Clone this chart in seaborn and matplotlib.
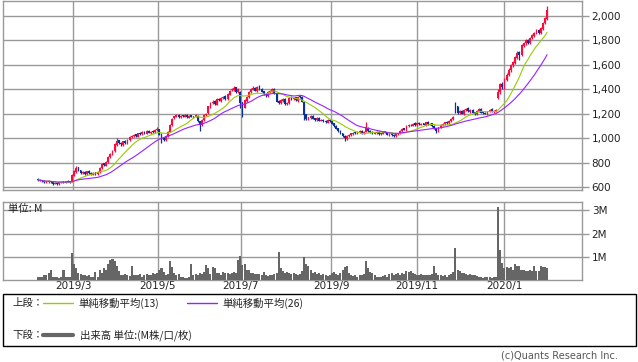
import numpy as np
import pandas as pd
import matplotlib
matplotlib.use("Agg")
import matplotlib.pyplot as plt
from matplotlib.patches import Rectangle
from matplotlib.lines import Line2D
import seaborn as sns

# ---------------- data (daily, trading-day index) ----------------
open_ = [
    670, 662, 658, 652, 638, 642, 652, 642, 628, 636,
    628, 640, 648, 638, 652, 648, 650, 695, 728, 762,
    738, 715, 728, 708, 732, 718, 702, 722, 708, 722,
    758, 795, 775, 805, 848, 868, 898, 945, 985, 962,
    948, 978, 958, 988, 1008, 1018, 1032, 1012, 1042, 1032,
    1055, 1038, 1062, 1042, 1058, 1048, 1068, 1075, 1035, 1005,
    988, 1018, 1052, 1108, 1162, 1178, 1192, 1172, 1188, 1178,
    1192, 1168, 1188, 1172, 1178, 1185, 1138, 1108, 1148, 1188,
    1205, 1255, 1285, 1305, 1275, 1325, 1305, 1328, 1345, 1318,
    1355, 1392, 1395, 1415, 1378, 1380, 1295, 1250, 1305, 1338,
    1375, 1398, 1412, 1385, 1425, 1402, 1385, 1365, 1345, 1378,
    1388, 1405, 1365, 1305, 1285, 1305, 1325, 1278, 1285, 1335,
    1318, 1335, 1305, 1345, 1338, 1295, 1195, 1155, 1165, 1185,
    1162, 1148, 1168, 1142, 1152, 1142, 1128, 1152, 1138, 1122,
    1102, 1082, 1062, 1042, 1022, 998, 1018, 1028, 1035, 1048,
    1038, 1048, 1062, 1038, 1052, 1088, 1062, 1052, 1038, 1042,
    1052, 1033, 1038, 1058, 1048, 1028, 1038, 1028, 1018, 1032,
    1038, 1058, 1082, 1068, 1098, 1112, 1102, 1122, 1108, 1128,
    1112, 1122, 1108, 1132, 1112, 1122, 1102, 1082, 1058, 1088,
    1108, 1118, 1132, 1122, 1138, 1158, 1290, 1260, 1205, 1222,
    1198, 1228, 1245, 1215, 1232, 1212, 1198, 1222, 1242, 1212,
    1208, 1198, 1218, 1238, 1215, 1222, 1330, 1375, 1445, 1415,
    1475, 1515, 1555, 1598, 1615, 1655, 1705, 1678, 1755, 1775,
    1805, 1778, 1815, 1835, 1855, 1885, 1858, 1895, 1945, 1975,
]
close = [
    660, 655, 650, 640, 645, 650, 640, 630, 635, 625,
    640, 645, 640, 650, 645, 640, 700, 730, 760, 740,
    720, 725, 710, 730, 715, 705, 720, 710, 725, 760,
    790, 780, 810, 850, 870, 900, 950, 980, 960, 950,
    975, 960, 990, 1010, 1020, 1030, 1015, 1040, 1035, 1050,
    1040, 1060, 1045, 1055, 1050, 1070, 1080, 1030, 1000, 990,
    1020, 1050, 1110, 1160, 1180, 1190, 1175, 1185, 1180, 1190,
    1170, 1185, 1175, 1180, 1190, 1140, 1110, 1150, 1190, 1200,
    1260, 1290, 1300, 1280, 1320, 1310, 1330, 1340, 1320, 1360,
    1390, 1400, 1410, 1380, 1400, 1290, 1250, 1310, 1340, 1380,
    1400, 1410, 1390, 1420, 1400, 1380, 1360, 1350, 1380, 1390,
    1400, 1370, 1300, 1290, 1310, 1320, 1280, 1290, 1330, 1320,
    1330, 1310, 1340, 1335, 1300, 1190, 1160, 1170, 1180, 1160,
    1150, 1165, 1145, 1150, 1140, 1130, 1150, 1140, 1120, 1100,
    1080, 1060, 1040, 1020, 1000, 1020, 1030, 1040, 1045, 1040,
    1050, 1060, 1040, 1050, 1090, 1060, 1050, 1040, 1045, 1050,
    1035, 1040, 1055, 1045, 1030, 1035, 1025, 1020, 1035, 1040,
    1060, 1080, 1070, 1100, 1110, 1105, 1120, 1110, 1125, 1115,
    1120, 1110, 1130, 1115, 1120, 1100, 1080, 1060, 1090, 1110,
    1120, 1130, 1125, 1140, 1160, 1170, 1230, 1210, 1220, 1200,
    1230, 1240, 1220, 1230, 1210, 1200, 1225, 1240, 1210, 1205,
    1200, 1220, 1235, 1220, 1225, 1230, 1380, 1440, 1420, 1480,
    1520, 1560, 1600, 1620, 1660, 1700, 1680, 1760, 1780, 1800,
    1780, 1820, 1840, 1860, 1880, 1860, 1900, 1940, 1980, 2050,
]
high = [
    678, 668, 662, 656, 650, 656, 655, 646, 640, 640,
    645, 652, 652, 655, 656, 652, 705, 740, 770, 768,
    742, 732, 734, 736, 738, 722, 726, 728, 730, 766,
    798, 802, 815, 858, 878, 908, 958, 1000, 990, 968,
    982, 985, 995, 1015, 1028, 1036, 1038, 1046, 1048, 1058,
    1062, 1066, 1068, 1060, 1064, 1076, 1092, 1080, 1040, 1010,
    1025, 1056, 1115, 1168, 1186, 1198, 1198, 1190, 1194, 1196,
    1198, 1190, 1194, 1186, 1196, 1190, 1142, 1155, 1195, 1208,
    1266, 1298, 1310, 1312, 1326, 1332, 1338, 1348, 1352, 1368,
    1398, 1410, 1425, 1420, 1408, 1385, 1300, 1318, 1346, 1388,
    1408, 1425, 1418, 1428, 1432, 1408, 1390, 1370, 1388, 1398,
    1410, 1410, 1372, 1310, 1318, 1328, 1330, 1298, 1338, 1342,
    1338, 1340, 1346, 1352, 1345, 1300, 1200, 1178, 1188, 1190,
    1168, 1170, 1172, 1155, 1158, 1148, 1155, 1158, 1142, 1126,
    1106, 1086, 1066, 1046, 1026, 1026, 1036, 1046, 1052, 1054,
    1056, 1066, 1068, 1056, 1130, 1094, 1066, 1058, 1050, 1056,
    1058, 1046, 1060, 1062, 1052, 1040, 1042, 1032, 1040, 1046,
    1066, 1086, 1088, 1106, 1116, 1120, 1126, 1130, 1132, 1134,
    1126, 1128, 1136, 1138, 1126, 1126, 1106, 1086, 1095, 1116,
    1126, 1136, 1138, 1146, 1166, 1180, 1300, 1265, 1228, 1228,
    1236, 1248, 1252, 1236, 1238, 1218, 1230, 1246, 1248, 1218,
    1214, 1226, 1242, 1244, 1232, 1238, 1400, 1450, 1460, 1490,
    1530, 1570, 1610, 1632, 1668, 1710, 1712, 1770, 1790, 1810,
    1812, 1828, 1850, 1868, 1890, 1892, 1908, 1950, 1990, 2080,
]
low = [
    655, 648, 645, 632, 634, 638, 636, 622, 624, 618,
    622, 636, 634, 632, 640, 634, 645, 690, 720, 732,
    712, 710, 704, 702, 710, 698, 698, 704, 702, 718,
    752, 772, 770, 800, 840, 860, 890, 938, 952, 935,
    940, 955, 952, 982, 1002, 1012, 1008, 1008, 1030, 1028,
    1035, 1032, 1040, 1038, 1044, 1044, 1062, 1025, 965, 975,
    982, 1012, 1048, 1100, 1155, 1172, 1168, 1165, 1174, 1172,
    1165, 1162, 1170, 1166, 1174, 1135, 1060, 1100, 1142, 1182,
    1200, 1248, 1278, 1272, 1270, 1302, 1300, 1322, 1315, 1312,
    1350, 1385, 1390, 1372, 1372, 1250, 1170, 1245, 1300, 1332,
    1370, 1392, 1385, 1380, 1395, 1375, 1355, 1340, 1340, 1372,
    1382, 1365, 1295, 1278, 1280, 1300, 1270, 1270, 1280, 1315,
    1312, 1305, 1300, 1328, 1295, 1150, 1150, 1148, 1160, 1155,
    1145, 1142, 1140, 1138, 1135, 1125, 1122, 1135, 1115, 1095,
    1075, 1055, 1035, 1012, 980, 990, 1012, 1022, 1030, 1035,
    1032, 1044, 1035, 1032, 1048, 1055, 1045, 1035, 1032, 1038,
    1030, 1028, 1034, 1040, 1024, 1022, 1020, 1012, 1014, 1028,
    1032, 1052, 1064, 1062, 1092, 1098, 1098, 1104, 1102, 1110,
    1106, 1105, 1102, 1110, 1108, 1095, 1075, 1040, 1052, 1082,
    1102, 1112, 1118, 1118, 1132, 1152, 1210, 1200, 1195, 1195,
    1192, 1222, 1215, 1210, 1205, 1192, 1192, 1218, 1205, 1198,
    1195, 1192, 1212, 1214, 1210, 1215, 1320, 1360, 1400, 1405,
    1465, 1505, 1545, 1585, 1605, 1645, 1640, 1670, 1745, 1765,
    1770, 1770, 1808, 1828, 1848, 1850, 1850, 1888, 1935, 1965,
]
volume_m = [
    0.12, 0.15, 0.14, 0.2, 0.22, 0.3, 0.42, 0.15, 0.12, 0.12,
    0.1, 0.13, 0.42, 0.15, 0.12, 0.13, 1.15, 0.7, 0.5, 0.3,
    0.25, 0.2, 0.2, 0.18, 0.22, 0.12, 0.15, 0.35, 0.15, 0.45,
    0.3, 0.5, 0.45, 0.7, 0.85, 0.9, 0.8, 0.6, 0.4, 0.22,
    0.2, 0.25, 0.2, 0.18, 0.6, 0.22, 0.2, 0.2, 0.25, 0.15,
    0.22, 0.25, 0.2, 0.22, 0.3, 0.28, 0.32, 0.45, 0.5, 0.35,
    0.2, 0.25, 0.8, 0.55, 0.3, 0.2, 0.25, 0.15, 0.12, 0.1,
    0.1, 0.12, 0.7, 0.2, 0.25, 0.22, 0.3, 0.28, 0.35, 0.65,
    0.5, 0.25, 0.55, 0.5, 0.3, 0.3, 0.2, 0.35, 0.3, 0.3,
    0.28, 0.3, 0.35, 0.3, 0.85, 1.05, 0.65, 0.7, 0.45, 0.45,
    0.3, 0.3, 0.25, 0.25, 0.25, 0.2, 0.35, 0.2, 0.18, 0.22,
    0.2, 0.25, 0.3, 1.2, 0.5, 0.4, 0.3, 0.35, 0.3, 0.25,
    0.3, 0.25, 0.2, 0.25, 0.4, 1.0, 0.7, 0.6, 0.45, 0.3,
    0.35, 0.25, 0.3, 0.2, 0.25, 0.22, 0.18, 0.2, 0.3, 0.35,
    0.25, 0.2, 0.3, 0.45, 0.55, 0.6, 0.3, 0.2, 0.18, 0.2,
    0.15, 0.2, 0.2, 0.25, 0.8, 0.5, 0.35, 0.3, 0.2, 0.15,
    0.15, 0.12, 0.18, 0.2, 0.15, 0.25, 0.3, 0.2, 0.25, 0.3,
    0.22, 0.3, 0.25, 0.4, 0.35, 0.4, 0.3, 0.25, 0.2, 0.2,
    0.25, 0.2, 0.22, 0.2, 0.2, 0.25, 0.6, 0.3, 0.2, 0.2,
    0.18, 0.2, 0.15, 0.2, 0.25, 0.35, 1.38, 0.45, 0.4, 0.3,
    0.3, 0.25, 0.22, 0.25, 0.2, 0.2, 0.18, 0.12, 0.15, 0.1,
    0.12, 0.15, 0.12, 0.1, 0.12, 0.15, 3.15, 1.3, 0.75, 0.5,
    0.55, 0.5, 0.55, 0.45, 0.7, 0.6, 0.6, 0.45, 0.45, 0.4,
    0.4, 0.45, 0.4, 0.6, 0.4, 0.4, 0.6, 0.58, 0.55, 0.5,
]
month_tick_pos = [16.5, 56.3, 95.3, 137.8, 177.9, 218.8]
month_tick_labels = ["2019/3", "2019/5", "2019/7", "2019/9", "2019/11", "2020/1"]
price_ticks = [600, 800, 1000, 1200, 1400, 1600, 1800, 2000]
volume_ticks = [1, 2, 3]
volume_tick_labels = ["1M", "2M", "3M"]
legend_ma13 = "単純移動平均(13)"
legend_ma26 = "単純移動平均(26)"
legend_vol = "出来高 単位:(M株/口/枚)"

# ---------------- styling ----------------
sns.set_style("white")
plt.rcParams["font.family"] = ["DejaVu Sans", "Noto Sans CJK JP"]
CJK = ["Noto Sans CJK JP", "DejaVu Sans"]
UP = "#ff0a3c"
DOWN = "#0a3296"
MA13_C = "#99cc00"
MA26_C = "#9922ff"
VOL_C = "#666666"
GRID_C = "#999999"

W, H = 638, 362
fx = lambda x: x / W
fy = lambda y: 1 - y / H

fig = plt.figure(figsize=(W / 100, H / 100), dpi=100)
ax1 = fig.add_axes([fx(3), fy(190), (582 - 3) / W, (190 - 1) / H])
ax2 = fig.add_axes([fx(3), fy(280), (582 - 3) / W, (280 - 202) / H])

o = np.array(open_, float)
c = np.array(close, float)
h = np.array(high, float)
l = np.array(low, float)
v = np.array(volume_m, float)
idx = np.arange(len(c))
cols = np.where(c >= o, UP, DOWN)

df = pd.DataFrame({"day": idx, "close": c})
df["ma13"] = df["close"].rolling(13, min_periods=1).mean()
df["ma26"] = df["close"].rolling(26, min_periods=1).mean()

# price panel
ax1.vlines(idx, l, h, colors=cols, linewidth=0.9, zorder=3)
body = np.maximum(np.abs(c - o), 4)
ax1.bar(idx, body, bottom=np.minimum(o, c), width=0.85, color=cols, linewidth=0, zorder=3)
sns.lineplot(data=df, x="day", y="ma13", ax=ax1, color=MA13_C, linewidth=0.8, zorder=4)
sns.lineplot(data=df, x="day", y="ma26", ax=ax1, color=MA26_C, linewidth=0.8, zorder=4)

xlim = (-16.4, 255.4)
for ax in (ax1, ax2):
    ax.set_xlim(*xlim)
    ax.set_xticks(month_tick_pos)
    ax.grid(True, color=GRID_C, linewidth=1.0)
    ax.set_axisbelow(True)
    ax.set_xlabel("")
    ax.set_ylabel("")
    for s in ax.spines.values():
        s.set_color(GRID_C)
        s.set_linewidth(1.0)
    ax.yaxis.tick_right()
    ax.tick_params(axis="y", which="both", right=True, length=5, width=1,
                   color=GRID_C, labelsize=7.5, labelcolor="#222222", pad=2)

ax1.set_ylim(578, 2121)
ax1.set_yticks(price_ticks)
ax1.set_yticklabels([f"{t:,}" for t in price_ticks])
ax1.tick_params(axis="x", length=0, labelbottom=False)

# volume panel
ax2.bar(idx, v, width=0.95, color=VOL_C, linewidth=0, zorder=3)
ax2.set_ylim(0, 3.36)
ax2.set_yticks(volume_ticks)
ax2.set_yticklabels(volume_tick_labels)
ax2.set_xticklabels(month_tick_labels)
ax2.tick_params(axis="x", length=0, labelsize=7.5, labelcolor="#222222", pad=1)
fig.text(fx(8), fy(209), "単位: M", fontsize=7.5, family=CJK, va="center", ha="left", color="#222222")

# legend box
fig.add_artist(Rectangle((fx(3), fy(346)), (636 - 3) / W, (346 - 294) / H,
                         transform=fig.transFigure, fill=False, edgecolor="black", linewidth=1))
fig.text(fx(12), fy(303), "上段：", fontsize=7.5, family=CJK, va="center", color="#222222")
fig.add_artist(Line2D([fx(43), fx(73)], [fy(303)] * 2, transform=fig.transFigure, color=MA13_C, linewidth=1))
fig.text(fx(78), fy(303), legend_ma13, fontsize=7.5, family=CJK, va="center", color="#222222")
fig.add_artist(Line2D([fx(187), fx(217)], [fy(303)] * 2, transform=fig.transFigure, color=MA26_C, linewidth=1))
fig.text(fx(222), fy(303), legend_ma26, fontsize=7.5, family=CJK, va="center", color="#222222")
fig.text(fx(12), fy(335), "下段：", fontsize=7.5, family=CJK, va="center", color="#222222")
fig.add_artist(Line2D([fx(43), fx(73)], [fy(335)] * 2, transform=fig.transFigure, color=VOL_C, linewidth=3))
fig.text(fx(80), fy(335), legend_vol, fontsize=7.5, family=CJK, va="center", color="#222222")

fig.text(fx(618), fy(355), "(c)Quants Research Inc.", fontsize=7, ha="right", va="center", color="#555555")

fig.savefig("out.png", dpi=100)
